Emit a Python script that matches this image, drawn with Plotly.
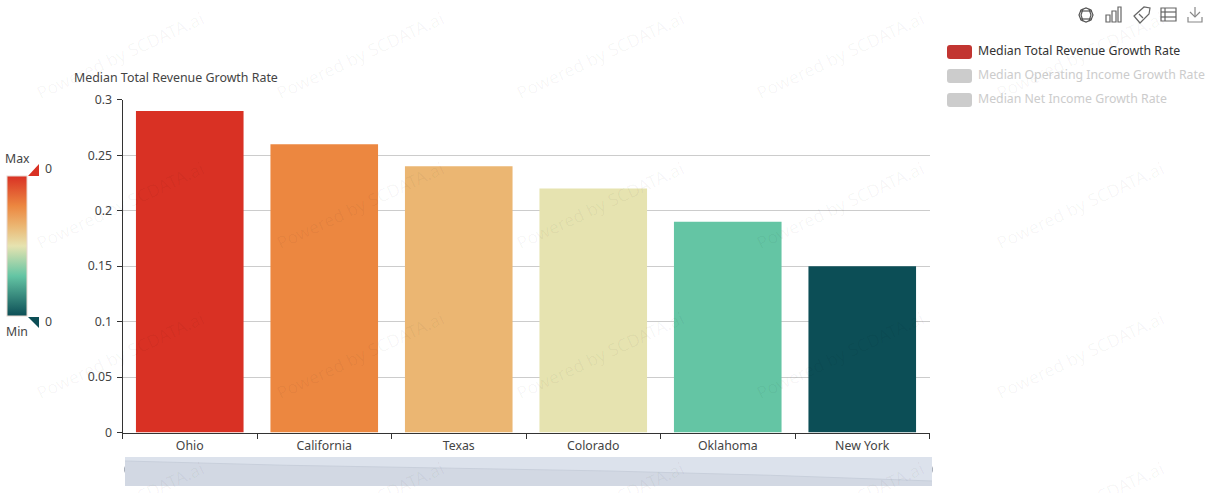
import plotly.graph_objects as go

W, H = 1229, 493

states = ['Ohio', 'California', 'Texas', 'Colorado', 'Oklahoma', 'New York']
revenue_growth = [0.29, 0.26, 0.24, 0.22, 0.19, 0.15]
y_ticks = [0, 0.05, 0.1, 0.15, 0.2, 0.25, 0.3]
y_labels = ['0', '0.05', '0.1', '0.15', '0.2', '0.25', '0.3']
legend_names = ['Median Total Revenue Growth Rate', 'Median Operating Income Growth Rate', 'Median Net Income Growth Rate']
legend_colors = ['#c23531', '#cccccc', '#cccccc']
legend_text = ['#333333', '#cccccc', '#cccccc']

# stops sit at each bar's position on the value scale
heat = [[0, '#0c4e56'], [0.286, '#64c5a4'], [0.5, '#e6e3b0'],
        [0.643, '#ebb672'], [0.786, '#ec8740'], [1, '#d93124']]

FONT = 'Noto Sans'
TEXT = '#444444'
SIZE = 12.3


def px(x, y):
    return x / W, 1 - y / H


def path(points, close=True):
    parts = []
    for i, (x, y) in enumerate(points):
        a, b = px(x, y)
        parts.append(f"{'M' if i == 0 else 'L'}{a:.5f},{b:.5f}")
    return ' '.join(parts) + (' Z' if close else '')


def rounded(x0, y0, x1, y1, r):
    a = [px(x0 + r, y0), px(x1 - r, y0), px(x1, y0), px(x1, y0 + r), px(x1, y1 - r), px(x1, y1),
         px(x1 - r, y1), px(x0 + r, y1), px(x0, y1), px(x0, y1 - r), px(x0, y0 + r), px(x0, y0), px(x0 + r, y0)]
    return (f"M{a[0][0]},{a[0][1]} L{a[1][0]},{a[1][1]} Q{a[2][0]},{a[2][1]} {a[3][0]},{a[3][1]} "
            f"L{a[4][0]},{a[4][1]} Q{a[5][0]},{a[5][1]} {a[6][0]},{a[6][1]} "
            f"L{a[7][0]},{a[7][1]} Q{a[8][0]},{a[8][1]} {a[9][0]},{a[9][1]} "
            f"L{a[10][0]},{a[10][1]} Q{a[11][0]},{a[11][1]} {a[12][0]},{a[12][1]} Z")


def label(x, y, text, color=TEXT, size=SIZE, anchor='left', angle=0):
    a, b = px(x, y)
    return dict(x=a, y=b, xref='paper', yref='paper', text=text, showarrow=False, xanchor=anchor, yanchor='middle',
                textangle=angle, font=dict(family=FONT, size=size, color=color))


def fill_shape(d, color, layer='above'):
    return dict(type='path', path=d, xref='paper', yref='paper', fillcolor=color, line=dict(width=0), layer=layer)


def stroke(points, close=False, color='#666666'):
    return dict(type='path', path=path(points, close), xref='paper', yref='paper', line=dict(color=color, width=1.2))


fig = go.Figure()
fig.add_trace(go.Bar(x=states, y=revenue_growth, name=legend_names[0], showlegend=False,
                     marker=dict(color=revenue_growth, colorscale=heat, cmin=min(revenue_growth), cmax=max(revenue_growth),
                                 line=dict(width=0),
                                 colorbar=dict(xref='container', yref='container', x=7 / W, xanchor='left',
                                               y=(H - 316) / H, yanchor='bottom', len=140 / H, lenmode='fraction',
                                               thickness=20, thicknessmode='pixels', xpad=0, ypad=0,
                                               showticklabels=False, ticks='', outlinecolor='#e8d8d0', outlinewidth=1,
                                               borderwidth=0))))
# data zoom overview
fig.add_trace(go.Scatter(x=states, y=revenue_growth, xaxis='x2', yaxis='y2', mode='lines', showlegend=False,
                         line=dict(color='#c8cfdb', width=1), fill='tozeroy', fillcolor='#d2d8e3', hoverinfo='skip'))

shapes = [
    fill_shape(path([(125, 457), (932, 457), (932, 486), (125, 486)]), '#dce2ec', 'below'),
    fill_shape(path([(28, 176), (39, 176), (39, 164)]), '#d93124'),
    fill_shape(path([(28, 317), (39, 317), (39, 328)]), '#0c4e56'),
    # slider handles
    fill_shape(path([(125, 466), (124, 468), (124, 471), (125, 473)]), '#aab0ba'),
    fill_shape(path([(932, 466), (933, 468), (933, 471), (932, 473)]), '#aab0ba'),
]
for i, c in enumerate(legend_colors):
    shapes.append(fill_shape(rounded(947, 45 + 24 * i, 972, 59 + 24 * i, 3), c))

# toolbox icons
globe = [(1086 + dx, 15 + dy) for dx, dy in [(-7, 0), (-5, -5), (0, -7), (5, -5), (7, 0), (5, 5), (0, 7), (-5, 5)]]
shapes += [
    stroke(globe, True, '#555555'),
    stroke([(1080, 11), (1092, 11)], color='#555555'), stroke([(1080, 19), (1092, 19)], color='#555555'),
    stroke([(1083, 9), (1081, 15), (1083, 21)], color='#555555'), stroke([(1089, 9), (1091, 15), (1089, 21)], color='#555555'),
    stroke([(1106, 22), (1106, 15), (1110, 15), (1110, 22)], True),
    stroke([(1112, 22), (1112, 11), (1116, 11), (1116, 22)], True),
    stroke([(1118, 22), (1118, 7), (1121, 7), (1121, 22)], True),
    stroke([(1134, 16), (1144, 7), (1150, 8), (1149, 14), (1140, 23)], True),
    stroke([(1139, 14), (1143, 18)]),
    stroke([(1161, 8), (1176, 8), (1176, 21), (1161, 21)], True),
    stroke([(1161, 12), (1176, 12)]), stroke([(1161, 17), (1176, 17)]), stroke([(1165, 8), (1165, 21)]),
    stroke([(1195, 7), (1195, 17)], color='#888888'), stroke([(1190, 12), (1195, 17), (1200, 12)], color='#888888'),
    stroke([(1188, 17), (1188, 22), (1202, 22), (1202, 17)], color='#888888'),
]

annotations = [
    label(72, 77, 'Median Total Revenue Growth Rate', size=12.4),
    label(17, 159, 'Max', anchor='center'),
    label(17, 331, 'Min', anchor='center'),
    label(43, 169, '0'),
    label(43, 321, '0'),
]
for i, name in enumerate(legend_names):
    annotations.append(label(976, 50 + 24 * i, name, color=legend_text[i]))

# watermark grid
for cx in [120, 360, 600, 840, 1080]:
    for cy in [55, 205, 355, 505]:
        annotations.append(label(cx, cy, 'Powered by SCDATA.ai', color='rgba(0,0,0,0.04)', size=17.5, anchor='center', angle=-25))

fig.update_layout(
    width=W, height=H, margin=dict(l=0, r=0, t=0, b=0, autoexpand=False),
    paper_bgcolor='white', plot_bgcolor='rgba(0,0,0,0)', bargap=0.2,
    font=dict(family=FONT, size=SIZE, color=TEXT), showlegend=False,
    xaxis=dict(domain=[122.5 / W, 929.5 / W], type='category', tickson='boundaries', ticks='outside', ticklen=5,
               tickcolor='#333333', showline=True, linecolor='#333333', linewidth=1, showgrid=False, anchor='y',
               ticklabelstandoff=2, tickfont=dict(size=SIZE, color=TEXT)),
    yaxis=dict(domain=[(H - 432.5) / H, (H - 99.5) / H], range=[0, 0.3003], tickvals=y_ticks, ticktext=y_labels, ticks='outside',
               ticklen=5, tickcolor='#333333', showline=True, linecolor='#333333', linewidth=1, gridcolor='#cccccc',
               zeroline=False, anchor='x', ticklabelstandoff=2, tickfont=dict(size=SIZE, color=TEXT)),
    xaxis2=dict(domain=[125 / W, 932 / W], type='category', range=[0, 5], visible=False, anchor='y2'),
    yaxis2=dict(domain=[(H - 486) / H, (H - 457) / H], range=[0.115, 0.318], visible=False, anchor='x2'),
    shapes=shapes, annotations=annotations,
)

# page body margin would push the chart 8px off
fig.write_html("out.html", config={'displayModeBar': False}, post_script="document.body.style.margin='0';")
